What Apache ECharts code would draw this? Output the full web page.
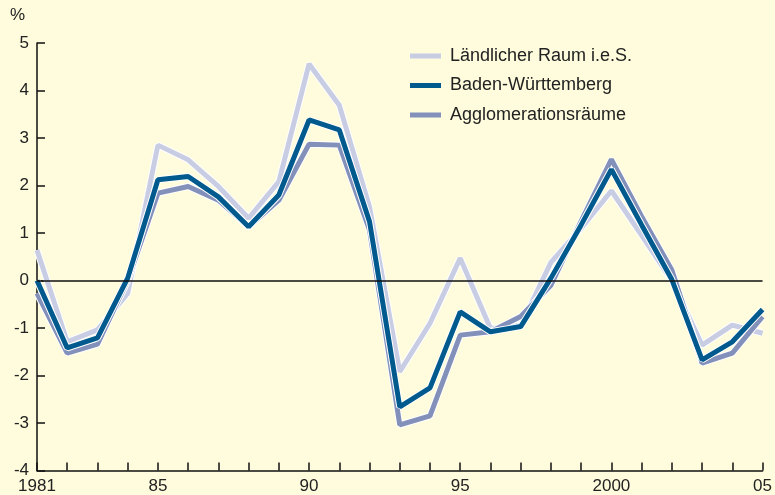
<!DOCTYPE html>
<html>
<head>
<meta charset="utf-8">
<script src="https://cdn.jsdelivr.net/npm/echarts@6/dist/echarts.min.js"></script>
<style>html,body{margin:0;padding:0;background:#fefcdc;}#c{width:775px;height:495px;}</style>
</head>
<body>
<div id="c"></div>
<script>
var years = [1981,1982,1983,1984,1985,1986,1987,1988,1989,1990,1991,1992,1993,1994,1995,1996,1997,1998,1999,2000,2001,2002,2003,2004,2005];
var laendlich = [0.64,-1.29,-1.04,-0.27,2.85,2.54,1.98,1.31,2.08,4.56,3.69,1.55,-1.92,-0.9,0.47,-1.01,-0.95,0.38,1.1,1.89,0.95,0.0,-1.36,-0.94,-1.11];
var bw = [0.0,-1.42,-1.21,0.05,2.12,2.19,1.76,1.13,1.8,3.38,3.17,1.24,-2.66,-2.26,-0.66,-1.08,-0.97,0.05,1.17,2.34,1.17,0.02,-1.67,-1.29,-0.61];
var agglo = [-0.27,-1.53,-1.34,0.0,1.84,1.98,1.69,1.13,1.69,2.87,2.85,1.06,-3.04,-2.85,-1.15,-1.08,-0.76,-0.1,1.25,2.55,1.35,0.22,-1.74,-1.53,-0.76];
var xTickLabels = {1981:'1981',1985:'85',1990:'90',1995:'95',2000:'2000',2005:'05'};
var names = ['Ländlicher Raum i.e.S.','Baden-Württemberg','Agglomerationsräume'];
var colors = ['#c9cde3','#005a8e','#8390ba'];

function pairs(arr){ return years.map(function(y,i){ return [y, arr[i]]; }); }

var font = 'Liberation Sans, Arial, sans-serif';
var order = [[laendlich,0],[agglo,2],[bw,1]];
var series = [{
  type:'line', name:'_zero', data:[], z:1,
  markLine:{silent:true, symbol:'none', label:{show:false},
    lineStyle:{color:'#111', width:1.5, type:'solid'}, data:[{yAxis:0}]}
}];
order.forEach(function(o){
  var arr=o[0], idx=o[1];
  series.push({type:'line', name:'_w'+idx, data:pairs(arr), symbol:'none', z:2,
    lineStyle:{color:'#ffffff', width:7}, silent:true, legendHoverLink:false});
  series.push({type:'line', name:names[idx], data:pairs(arr), symbol:'none', z:2,
    color:colors[idx], lineStyle:{color:colors[idx], width:5}});
});

var chart = echarts.init(document.getElementById('c'), null, {renderer:'canvas'});
chart.setOption({
  backgroundColor:'#fefcdc',
  animation:false,
  grid:{left:37, right:6, top:43, bottom:24.5, containLabel:false},
  legend:{
    data:names.map(function(n,i){return {name:n, icon:'rect', itemStyle:{color:colors[i]}};}),
    orient:'vertical', left:405, top:40, itemWidth:31, itemHeight:5, itemGap:7.5,
    textStyle:{fontFamily:font, fontSize:18, color:'#222', lineHeight:22, padding:[0,0,0,4]}
  },
  graphic:[{type:'text', left:10, top:7, style:{text:'%', fontSize:17, fontFamily:font, fill:'#222'}}],
  xAxis:{
    type:'value', min:1981, max:2005, interval:1,
    axisLine:{show:true, onZero:false, lineStyle:{color:'#111', width:1.5}},
    axisTick:{show:true, inside:true, length:8, lineStyle:{color:'#111', width:1.5}},
    splitLine:{show:false},
    axisLabel:{show:true, margin:7, fontFamily:font, fontSize:17, color:'#222',
      showMinLabel:true, showMaxLabel:true,
      formatter:function(v){ return xTickLabels[v] || ''; }}
  },
  yAxis:{
    type:'value', min:-4, max:5, interval:1,
    axisLine:{show:true, onZero:false, lineStyle:{color:'#111', width:1.5}},
    axisTick:{show:true, inside:true, length:8, lineStyle:{color:'#111', width:1.5}},
    splitLine:{show:false},
    axisLabel:{margin:8, fontFamily:font, fontSize:17, color:'#222'}
  },
  series:series
});
</script>
</body>
</html>
